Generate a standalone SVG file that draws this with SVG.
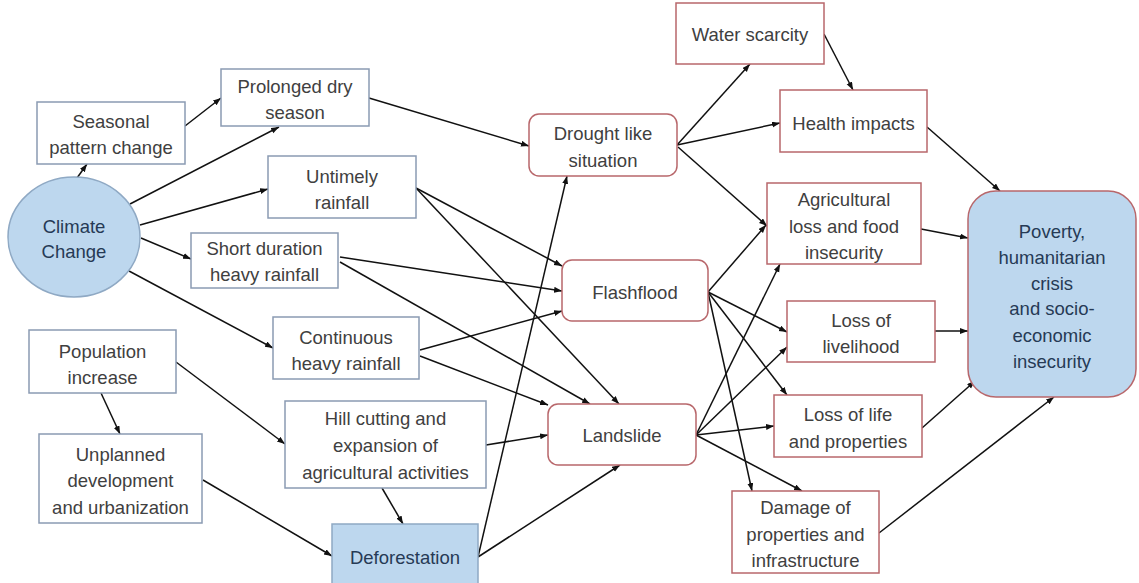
<svg xmlns="http://www.w3.org/2000/svg" width="1139" height="583" viewBox="0 0 1139 583">
<defs>
<marker id="ah" markerUnits="userSpaceOnUse" markerWidth="9" markerHeight="7" refX="8" refY="3" orient="auto">
<path d="M0,0 L8,3 L0,6 z" fill="#111"/>
</marker>
<style>
.bn{fill:#fff;stroke:#8a9bb3;stroke-width:1.5}
.rn{fill:#fff;stroke:#b8676b;stroke-width:1.5}
.fb{fill:#bdd7ee;stroke:#8fa9c4;stroke-width:1.5}
.fr{fill:#bdd7ee;stroke:#b8676b;stroke-width:1.5}
text{font-family:"Liberation Sans",Arial,sans-serif;font-size:18.5px;fill:#404040;text-anchor:middle}
text.d{fill:#263a55}
#edges line{stroke:#111;stroke-width:1.5;marker-end:url(#ah)}
</style>
</defs>
<rect width="1139" height="583" fill="#fff"/>
<g id="edges">
<line x1="77" y1="178" x2="87" y2="164"/>
<line x1="185" y1="126" x2="221" y2="98"/>
<line x1="130" y1="204" x2="279" y2="127"/>
<line x1="140" y1="225" x2="268" y2="189"/>
<line x1="141" y1="238" x2="191" y2="259"/>
<line x1="129" y1="271" x2="273" y2="348"/>
<line x1="369" y1="98" x2="529" y2="146"/>
<line x1="416" y1="188" x2="562" y2="266"/>
<line x1="416" y1="188" x2="619" y2="404"/>
<line x1="340" y1="257" x2="562" y2="291"/>
<line x1="340" y1="262" x2="590" y2="404"/>
<line x1="420" y1="350" x2="562" y2="311"/>
<line x1="420" y1="356" x2="548" y2="405"/>
<line x1="486" y1="445" x2="548" y2="435"/>
<line x1="176" y1="362" x2="285" y2="444"/>
<line x1="101" y1="393" x2="120" y2="434"/>
<line x1="203" y1="480" x2="332" y2="556"/>
<line x1="382" y1="488" x2="403" y2="524"/>
<line x1="478" y1="557" x2="567" y2="176"/>
<line x1="478" y1="557" x2="620" y2="465"/>
<line x1="677" y1="145" x2="750" y2="64"/>
<line x1="677" y1="145" x2="780" y2="123"/>
<line x1="678" y1="147" x2="767" y2="226"/>
<line x1="824" y1="34" x2="853" y2="90"/>
<line x1="927" y1="127" x2="1000" y2="191"/>
<line x1="921" y1="229" x2="968" y2="238"/>
<line x1="708" y1="292" x2="766" y2="225"/>
<line x1="708" y1="292" x2="787" y2="332"/>
<line x1="708" y1="292" x2="787" y2="395"/>
<line x1="708" y1="292" x2="752" y2="491"/>
<line x1="696" y1="435" x2="780" y2="264"/>
<line x1="696" y1="435" x2="787" y2="347"/>
<line x1="696" y1="435" x2="774" y2="426"/>
<line x1="696" y1="435" x2="802" y2="491"/>
<line x1="935" y1="331" x2="968" y2="331"/>
<line x1="922" y1="428" x2="975" y2="381"/>
<line x1="879" y1="533" x2="1054" y2="397"/>
</g>
<g id="climate"><ellipse class="fb" cx="74" cy="237" rx="66" ry="60"/><text class="d" x="74" y="233">Climate</text><text class="d" x="74" y="258">Change</text></g>
<g id="seasonal"><rect class="bn" x="37" y="102" width="148" height="62"/><text x="111" y="127.5">Seasonal</text><text x="111" y="153.5">pattern change</text></g>
<g id="prolonged"><rect class="bn" x="221" y="69" width="148" height="57"/><text x="295" y="92.5">Prolonged dry</text><text x="295" y="118.5">season</text></g>
<g id="untimely"><rect class="bn" x="268" y="156" width="148" height="62"/><text x="342" y="182.5">Untimely</text><text x="342" y="208.5">rainfall</text></g>
<g id="short"><rect class="bn" x="191" y="233" width="147" height="55"/><text x="264.5" y="254.5">Short duration</text><text x="264.5" y="280.5">heavy rainfall</text></g>
<g id="continuous"><rect class="bn" x="273" y="317" width="146" height="62"/><text x="346" y="343.5">Continuous</text><text x="346" y="369.5">heavy rainfall</text></g>
<g id="population"><rect class="bn" x="29" y="330" width="147" height="63"/><text x="102.5" y="357.5">Population</text><text x="102.5" y="383.5">increase</text></g>
<g id="unplanned"><rect class="bn" x="39" y="434" width="163" height="89"/><text x="120.5" y="460.5">Unplanned</text><text x="120.5" y="486.5">development</text><text x="120.5" y="513.5">and urbanization</text></g>
<g id="hill"><rect class="bn" x="285" y="401" width="201" height="87"/><text x="385.5" y="424.5">Hill cutting and</text><text x="385.5" y="451.5">expansion of</text><text x="385.5" y="478.5">agricultural activities</text></g>
<g id="deforestation"><rect class="fb" x="332" y="524" width="146" height="70"/><text class="d" x="405" y="563.5">Deforestation</text></g>
<g id="drought"><rect class="rn" x="529" y="114" width="148" height="62" rx="10"/><text x="603" y="139.5">Drought like</text><text x="603" y="166.5">situation</text></g>
<g id="water"><rect class="rn" x="676" y="3" width="148" height="61"/><text x="750" y="40.5">Water scarcity</text></g>
<g id="health"><rect class="rn" x="780" y="90" width="147" height="62"/><text x="853.5" y="129.5">Health impacts</text></g>
<g id="agri"><rect class="rn" x="767" y="183" width="154" height="81"/><text x="844" y="205.5">Agricultural</text><text x="844" y="232.5">loss and food</text><text x="844" y="258.5">insecurity</text></g>
<g id="flashflood"><rect class="rn" x="562" y="260" width="146" height="61" rx="10"/><text x="635" y="298.5">Flashflood</text></g>
<g id="landslide"><rect class="rn" x="548" y="404" width="148" height="61" rx="10"/><text x="622" y="441.5">Landslide</text></g>
<g id="livelihood"><rect class="rn" x="787" y="301" width="148" height="61"/><text x="861" y="326.5">Loss of</text><text x="861" y="352.5">livelihood</text></g>
<g id="life"><rect class="rn" x="774" y="395" width="148" height="62"/><text x="848" y="420.5">Loss of life</text><text x="848" y="447.5">and properties</text></g>
<g id="damage"><rect class="rn" x="732" y="491" width="147" height="82"/><text x="805.5" y="513.5">Damage of</text><text x="805.5" y="540.5">properties and</text><text x="805.5" y="566.5">infrastructure</text></g>
<g id="poverty"><rect class="fr" x="968" y="191" width="168" height="206" rx="28"/><text class="d" x="1052" y="237.5">Poverty,</text><text class="d" x="1052" y="263.5">humanitarian</text><text class="d" x="1052" y="289.5">crisis</text><text class="d" x="1052" y="315">and socio-</text><text class="d" x="1052" y="341.5">economic</text><text class="d" x="1052" y="367.5">insecurity</text></g>
</svg>
